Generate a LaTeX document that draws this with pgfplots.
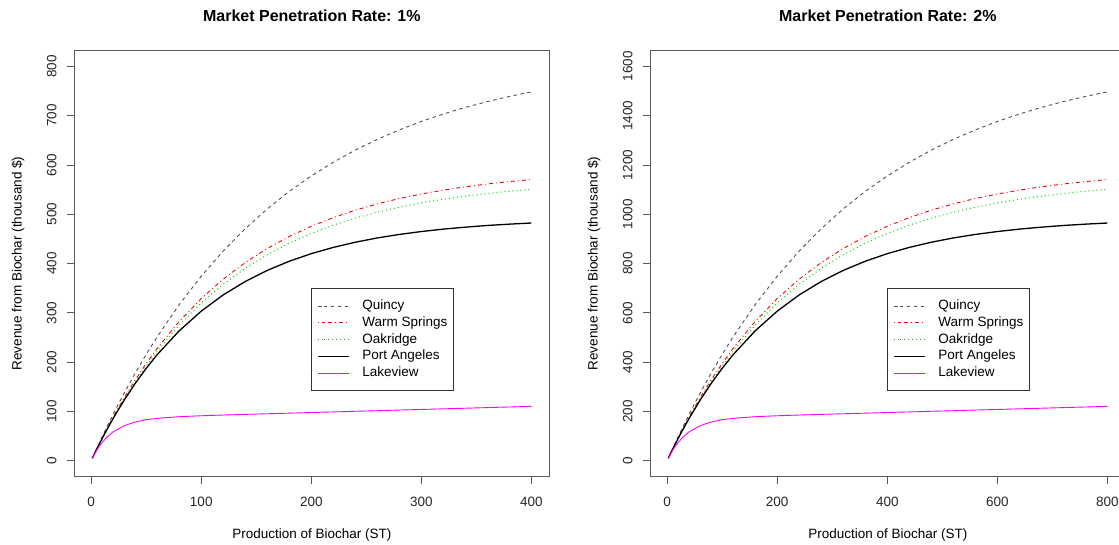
\documentclass[border=0pt]{standalone}
\usepackage{pgfplots}
\pgfplotsset{compat=1.18}
\usepackage{pgfplotstable}
\usepackage{fontspec}
\setmainfont{Liberation Sans}

\definecolor{quincy}{RGB}{80,80,80}
\definecolor{warm}{RGB}{255,0,0}
\definecolor{oak}{RGB}{0,215,0}
\definecolor{lake}{RGB}{255,0,255}
\definecolor{frame}{RGB}{90,90,90}

% Revenue (thousand $) against production of biochar (ST), 1% penetration
\pgfplotstableread{
x    q      w      o      p      l
1    5.0    4.8    4.7    4.7    4.7
5    24.6   23.5   23.0   23.0   20.9
10   48.5   46.0   45.0   44.9   36.8
15   71.7   67.7   66.2   65.8   49.0
20   94.1   88.5   86.5   85.7   58.3
30   137.1  127.7  124.7  122.8  70.8
40   177.5  163.8  159.9  156.5  78.3
50   215.5  197.1  192.3  187.2  82.8
60   251.3  227.9  222.2  215.0  85.7
80   316.5  282.4  275.1  263.4  89.0
100  374.3  328.8  320.0  303.3  90.9
120  425.5  368.3  358.1  336.3  92.4
140  470.8  401.9  390.4  363.5  93.7
160  510.9  430.5  417.9  386.0  95.0
180  546.4  454.9  441.2  404.6  96.2
200  577.8  475.6  461.0  420.0  97.5
220  605.6  493.2  477.8  432.7  98.7
240  630.2  508.3  492.0  443.2  100.0
260  652.0  521.0  504.1  451.9  101.2
280  671.3  531.9  514.4  459.0  102.5
300  688.4  541.1  523.1  464.9  103.7
320  703.5  549.0  530.5  469.8  105.0
340  716.9  555.7  536.8  473.8  106.2
360  728.7  561.4  542.1  477.2  107.5
380  739.2  566.3  546.6  479.9  108.7
400  748.5  570.4  550.4  482.2  110.0
}\rateone

% Same sites, 2% penetration
\pgfplotstableread{
x    q       w       o       p      l
2    10.0    9.6     9.4     9.4    9.4
10   49.2    47.0    46.0    46.0   41.8
20   97.0    92.0    90.0    89.8   73.6
30   143.4   135.4   132.4   131.6  98.0
40   188.2   177.0   173.0   171.4  116.6
60   274.2   255.4   249.4   245.6  141.6
80   355.0   327.6   319.8   313.0  156.6
100  431.0   394.2   384.6   374.4  165.6
120  502.6   455.8   444.4   430.0  171.4
160  633.0   564.8   550.2   526.8  178.0
200  748.6   657.6   640.0   606.6  181.8
240  851.0   736.6   716.2   672.6  184.8
280  941.6   803.8   780.8   727.0  187.4
320  1021.8  861.0   835.8   772.0  190.0
360  1092.8  909.8   882.4   809.2  192.4
400  1155.6  951.2   922.0   840.0  195.0
440  1211.2  986.4   955.6   865.4  197.4
480  1260.4  1016.6  984.0   886.4  200.0
520  1304.0  1042.0  1008.2  903.8  202.4
560  1342.6  1063.8  1028.8  918.0  205.0
600  1376.8  1082.2  1046.2  929.8  207.4
640  1407.0  1098.0  1061.0  939.6  210.0
680  1433.8  1111.4  1073.6  947.6  212.4
720  1457.4  1122.8  1084.2  954.4  215.0
760  1478.4  1132.6  1093.2  959.8  217.4
800  1497.0  1140.8  1100.8  964.4  220.0
}\ratetwo

\pgfplotsset{
  rpanel/.style={
    scale only axis, width=474.3pt, height=425.6pt,
    axis line style={frame, line width=0.9pt},
    tick align=outside, major tick length=8pt,
    tick style={frame, line width=0.9pt},
    xtick pos=bottom, ytick pos=left,
    font=\fontsize{13.5}{16}\selectfont,
    ticklabel style={font=\fontsize{13.5}{16}\selectfont, inner sep=0pt, text=black!85},
    /pgf/number format/assume math mode=true,
    /pgf/number format/1000 sep={},
    scaled ticks=false,
    yticklabel style={rotate=90, anchor=south},
    xticklabel shift=12.75pt,
    yticklabel shift=10pt,
    title style={font=\bfseries\fontsize{16}{19}\selectfont, at={(axis description cs:0.5,1.067)}, anchor=center},
    xlabel style={at={(axis description cs:0.5,-0.1379)}, anchor=center},
    ylabel style={at={(axis description cs:-0.1195,0.5)}, anchor=center},
    xlabel={Production of Biochar (ST)},
    ylabel={Revenue from Biochar (thousand \$)},
    legend cell align=left,
    legend style={draw=black!80, line width=0.8pt, inner xsep=6pt, inner ysep=11.5pt,
      row sep=4.8pt, anchor=north west,
      nodes={inner sep=0pt, text height=9.5pt, text depth=2.5pt, font=\fontsize{13.5}{16}\selectfont},
      /tikz/every odd column/.append style={column sep=13pt}},
    legend image code/.code={\path (0pt,0pt) -- (5.3pt,0pt); \draw[##1] (5.3pt,0pt) -- (30.3pt,0pt);},
  },
  qline/.style={quincy, line width=0.9pt, dash pattern=on 3.5pt off 3.5pt},
  wline/.style={warm, line width=0.9pt, dash pattern=on 1pt off 3pt on 4pt off 3pt},
  oline/.style={oak, line width=1pt, dash pattern=on 1pt off 3pt},
  pline/.style={black, line width=1.3pt},
  lline/.style={lake, line width=0.9pt},
}

\begin{document}
\begin{tikzpicture}
\begin{axis}[rpanel,
  at={(74.7pt,-476.3pt)}, anchor=south west,
  xmin=-15, xmax=416, ymin=-32, ymax=832,
  xtick={0,100,...,400}, ytick={0,100,...,800},
  title={Market Penetration Rate: 1\%},
  legend style={at={(axis cs:200,350)}},
]
\addplot[qline] table[x=x, y=q] {\rateone};
\addplot[wline] table[x=x, y=w] {\rateone};
\addplot[oline] table[x=x, y=o] {\rateone};
\addplot[pline] table[x=x, y=p] {\rateone};
\addplot[lline] table[x=x, y=l] {\rateone};
\legend{Quincy, Warm Springs, Oakridge, Port Angeles, Lakeview}
\end{axis}

\begin{axis}[rpanel,
  at={(650.7pt,-476.3pt)}, anchor=south west,
  xmin=-29.9, xmax=831.9, ymin=-64, ymax=1664,
  xtick={0,200,...,800}, ytick={0,200,...,1600},
  title={Market Penetration Rate: 2\%},
  legend style={at={(axis cs:400,700)}},
]
\addplot[qline] table[x=x, y=q] {\ratetwo};
\addplot[wline] table[x=x, y=w] {\ratetwo};
\addplot[oline] table[x=x, y=o] {\ratetwo};
\addplot[pline] table[x=x, y=p] {\ratetwo};
\addplot[lline] table[x=x, y=l] {\ratetwo};
\legend{Quincy, Warm Springs, Oakridge, Port Angeles, Lakeview}
\end{axis}

\pgfresetboundingbox
\path[use as bounding box] (0pt,0pt) rectangle (1119pt,-544pt);
\end{tikzpicture}
\end{document}
